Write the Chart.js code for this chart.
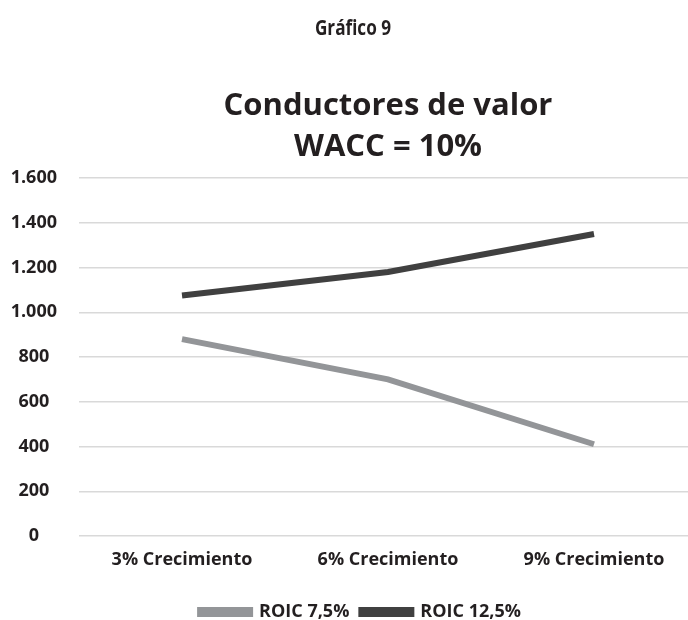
<!DOCTYPE html>
<html>
<head>
<meta charset="utf-8">
<script src="https://cdn.jsdelivr.net/npm/chart.js@4/dist/chart.umd.min.js"></script>
<style>
  html, body { margin: 0; padding: 0; background: #fff; overflow: hidden; }
  #wrap { position: absolute; left: 0; top: 0; width: 697px; height: 633px; }
</style>
</head>
<body>
<div id="wrap"><canvas id="chart"></canvas></div>
<script>
const categories = ["3% Crecimiento", "6% Crecimiento", "9% Crecimiento"];
const roic75 = [880, 700, 410];
const roic125 = [1075, 1180, 1350];
const seriesNames = ["ROIC 7,5%", "ROIC 12,5%"];
const caption = "Gráfico 9";
const titleLines = ["Conductores de valor", "WACC = 10%"];

const textColor = "#231f20";
const fontFamily = "'Open Sans', sans-serif";

// titles centred over the plot area, not the canvas
const titlePlugin = {
  id: "titles",
  afterLayout(chart) {
    // legend sits a little right of the canvas centre
    chart.legend.left += 12;
    chart.legend.right += 12;
  },
  afterDraw(chart) {
    const ctx = chart.ctx;
    const area = chart.chartArea;
    const cx = (area.left + area.right) / 2;
    ctx.save();
    ctx.fillStyle = textColor;
    ctx.textAlign = "center";
    ctx.textBaseline = "middle";

    ctx.save();
    ctx.translate(353, 29);
    ctx.scale(0.78, 1);
    ctx.font = "bold 22px " + fontFamily;
    ctx.fillText(caption, 0, 0);
    ctx.restore();

    ctx.font = "bold 31px " + fontFamily;
    ctx.fillText(titleLines[0], cx, 106);
    ctx.fillText(titleLines[1], cx, 147);
    ctx.restore();
  }
};

new Chart(document.getElementById("chart"), {
  type: "line",
  data: {
    labels: categories,
    datasets: [
      {
        label: seriesNames[0],
        data: roic75,
        borderColor: "#939598",
        backgroundColor: "#939598",
        borderWidth: 6,
        pointRadius: 0,
        tension: 0
      },
      {
        label: seriesNames[1],
        data: roic125,
        borderColor: "#404040",
        backgroundColor: "#404040",
        borderWidth: 6,
        pointRadius: 0,
        tension: 0
      }
    ]
  },
  options: {
    responsive: true,
    maintainAspectRatio: false,
    animation: false,
    layout: { padding: { top: 178, right: 0, bottom: 2, left: 0 } },
    plugins: {
      title: { display: false },
      tooltip: { enabled: false },
      legend: {
        position: "bottom",
        labels: {
          color: textColor,
          font: { family: fontFamily, size: 18, weight: "bold" },
          boxWidth: 50,
          boxHeight: 4,
          padding: 12
        }
      }
    },
    scales: {
      x: {
        offset: true,
        grid: { display: false },
        border: { display: false },
        ticks: {
          color: textColor,
          font: { family: fontFamily, size: 18, weight: "bold" },
          padding: 5,
          maxRotation: 0
        },
        afterFit(scale) { scale.height = 55; }
      },
      y: {
        min: 0,
        max: 1600,
        ticks: {
          stepSize: 200,
          color: textColor,
          crossAlign: "center",
          padding: 22,
          font: { family: fontFamily, size: 18, weight: "bold" },
          callback: (v) => v.toLocaleString("es-ES", { useGrouping: "always" })
        },
        grid: { color: "#d9d9d9", lineWidth: 1.5, drawTicks: false },
        border: { display: false },
        afterFit(scale) { scale.width = 79; }
      }
    }
  },
  plugins: [titlePlugin]
});
</script>
</body>
</html>
